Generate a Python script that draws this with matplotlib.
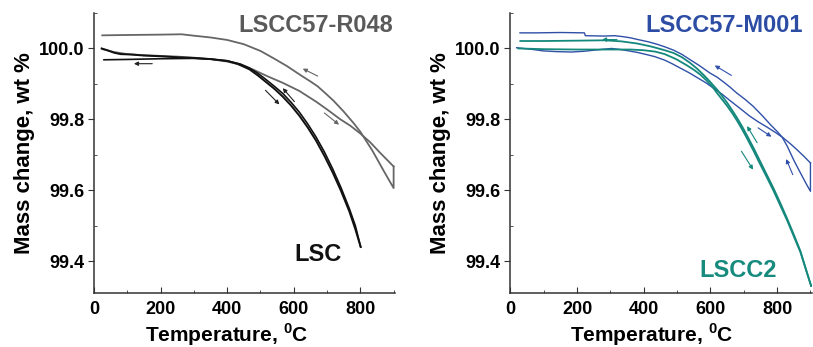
import matplotlib
matplotlib.use("Agg")
import matplotlib.pyplot as plt
from matplotlib.ticker import MultipleLocator

plt.rcParams['font.family'] = ['Liberation Sans', 'DejaVu Sans']
plt.rcParams['font.weight'] = 'bold'
plt.rcParams['mathtext.fontset'] = 'custom'
plt.rcParams['mathtext.rm'] = 'Liberation Sans:bold'
plt.rcParams['mathtext.bf'] = 'Liberation Sans:bold'

# ---- left panel: LSC (black) and LSCC57-R048 (gray) ----
lsc_heat_T = [23, 40, 60, 80, 110, 150, 200, 250, 300, 350, 400, 430, 467, 492, 517, 542, 567,
              592, 617, 642, 667, 692, 717, 742, 767, 785, 801]
lsc_heat_m = [100.0, 99.995, 99.988, 99.984, 99.983, 99.980, 99.978, 99.975, 99.973, 99.970,
              99.965, 99.957, 99.941, 99.924, 99.905, 99.886, 99.864, 99.839, 99.810, 99.777,
              99.740, 99.697, 99.650, 99.598, 99.540, 99.490, 99.440]
lsc_cool_T = [801, 785, 767, 742, 717, 692, 667, 642, 617, 592, 567, 542, 517, 492, 467, 440,
              400, 350, 300, 200, 100, 30]
lsc_cool_m = [99.440, 99.500, 99.548, 99.607, 99.660, 99.708, 99.750, 99.787, 99.820, 99.848,
              99.873, 99.893, 99.912, 99.930, 99.945, 99.956, 99.965, 99.970, 99.972, 99.971,
              99.969, 99.968]

r048_heat_T = [25, 60, 100, 150, 200, 250, 300, 350, 400, 440, 479, 520, 567, 617, 667, 700,
               740, 770, 800, 830, 860, 900]
r048_heat_m = [99.998, 99.990, 99.984, 99.981, 99.979, 99.977, 99.974, 99.970, 99.963, 99.954,
               99.940, 99.922, 99.903, 99.880, 99.850, 99.828, 99.800, 99.782, 99.760, 99.735,
               99.705, 99.667]
r048_cool_T = [900, 900, 870, 836, 800, 780, 750, 720, 697, 672, 650, 620, 580, 540, 500, 450,
               400, 350, 300, 263, 200, 100, 25]
r048_cool_m = [99.667, 99.606, 99.655, 99.712, 99.765, 99.789, 99.822, 99.852, 99.872, 99.893,
               99.907, 99.925, 99.950, 99.972, 99.993, 100.012, 100.024, 100.031, 100.036,
               100.040, 100.039, 100.038, 100.037]

# ---- right panel: LSCC57-M001 (blue) and LSCC2 (teal) ----
m001_heat_T = [19, 60, 100, 140, 184, 220, 250, 280, 304, 330, 350, 380, 403, 433, 463, 485,
               509, 535, 560, 585, 608, 635, 660, 690, 718, 745, 770, 795, 818, 840, 860, 880, 900]
m001_heat_m = [100.002, 99.998, 99.993, 99.991, 99.990, 99.992, 99.995, 99.998, 100.0, 99.997,
               99.994, 99.989, 99.984, 99.977, 99.967, 99.957, 99.945, 99.932, 99.918, 99.904,
               99.889, 99.871, 99.852, 99.830, 99.809, 99.792, 99.778, 99.763, 99.748, 99.731,
               99.714, 99.696, 99.677]
m001_cool_T = [900, 900, 888, 875, 862, 850, 840, 830, 815, 800, 780, 755, 728, 703, 678, 660,
               640, 620, 598, 568, 538, 515, 490, 465, 443, 413, 383, 360, 340, 313, 280, 225,
               222, 150, 80, 29]
m001_cool_m = [99.677, 99.597, 99.617, 99.640, 99.663, 99.685, 99.705, 99.725, 99.750, 99.766,
               99.785, 99.811, 99.837, 99.857, 99.875, 99.890, 99.905, 99.919, 99.931, 99.951,
               99.969, 99.983, 99.995, 100.004, 100.011, 100.019, 100.025, 100.030, 100.033,
               100.036, 100.035, 100.036, 100.044, 100.045, 100.044, 100.044]

lscc2_heat_T = [24, 100, 200, 300, 360, 400, 435, 463, 485, 499, 510, 530, 550, 570, 588, 605,
                620, 635, 650, 665, 680, 695, 710, 730, 750, 770, 790, 810, 830, 850, 870, 885, 902]
lscc2_heat_m = [100.0, 99.998, 99.997, 99.997, 99.997, 99.995, 99.991, 99.984, 99.975, 99.969,
                99.963, 99.952, 99.940, 99.926, 99.910, 99.893, 99.874, 99.856, 99.838, 99.818,
                99.796, 99.772, 99.746, 99.710, 99.672, 99.635, 99.597, 99.556, 99.515, 99.470,
                99.425, 99.380, 99.330]
lscc2_cool_T = [902, 885, 870, 850, 830, 810, 790, 770, 750, 730, 710, 695, 680, 665, 650, 635,
                620, 600, 580, 560, 538, 515, 490, 463, 440, 420, 400, 380, 333, 283, 200, 100, 30]
lscc2_cool_m = [99.330, 99.382, 99.428, 99.475, 99.520, 99.563, 99.604, 99.642, 99.680, 99.718,
                99.754, 99.780, 99.804, 99.826, 99.847, 99.866, 99.884, 99.905, 99.925, 99.943,
                99.960, 99.975, 99.987, 99.995, 100.001, 100.006, 100.010, 100.014, 100.020,
                100.023, 100.022, 100.021, 100.021]

# arrows: (tail T, tail m, head T, head m)
left_arrows = [((175, 99.957, 120, 99.957), '#222222'),
               ((515, 99.882, 557, 99.842), '#222222'),
               ((602, 99.850, 567, 99.888), '#222222'),
               ((672, 99.922, 627, 99.943), '#666666'),
               ((692, 99.818, 736, 99.785), '#666666')]
right_arrows = [((320, 100.025, 275, 100.025), '#14887c'),
                ((740, 99.734, 710, 99.781), '#14887c'),
                ((693, 99.710, 728, 99.658), '#14887c'),
                ((663, 99.924, 613, 99.952), '#3050a8'),
                ((743, 99.776, 783, 99.751), '#3050a8'),
                ((847, 99.644, 827, 99.688), '#3050a8')]

fig = plt.figure(figsize=(8.13, 3.47), dpi=100)
ax1 = fig.add_axes([0.1156, 0.1556, 0.3702, 0.8069])
ax2 = fig.add_axes([0.6277, 0.1556, 0.3708, 0.8069])

ax1.plot(r048_heat_T, r048_heat_m, color='#666666', lw=1.3)
ax1.plot(r048_cool_T, r048_cool_m, color='#666666', lw=1.3)
ax1.plot(lsc_heat_T, lsc_heat_m, color='#111111', lw=1.4)
ax1.plot(lsc_cool_T, lsc_cool_m, color='#111111', lw=1.2)

ax2.plot(m001_heat_T, m001_heat_m, color='#3050a8', lw=1.0)
ax2.plot(m001_cool_T, m001_cool_m, color='#3050a8', lw=1.0)
ax2.plot(lscc2_heat_T, lscc2_heat_m, color='#14887c', lw=1.3)
ax2.plot(lscc2_cool_T, lscc2_cool_m, color='#14887c', lw=1.3)

for ax, arrows in [(ax1, left_arrows), (ax2, right_arrows)]:
    for (t0, m0, t1, m1), c in arrows:
        ax.annotate('', xy=(t1, m1), xytext=(t0, m0),
                    arrowprops=dict(arrowstyle='-|>', color=c, lw=0.8,
                                    mutation_scale=6, shrinkA=0, shrinkB=0))

ax1.text(0.993, 0.957, 'LSCC57-R048', transform=ax1.transAxes, ha='right', va='center',
         fontsize=17, fontweight='bold', color='#5a5a5a')
ax1.text(0.743, 0.136, 'LSC', transform=ax1.transAxes, ha='center', va='center',
         fontsize=17, fontweight='bold', color='#111111')
ax2.text(0.971, 0.957, 'LSCC57-M001', transform=ax2.transAxes, ha='right', va='center',
         fontsize=17, fontweight='bold', color='#2d4da5')
ax2.text(0.755, 0.082, 'LSCC2', transform=ax2.transAxes, ha='center', va='center',
         fontsize=17, fontweight='bold', color='#178a7e')

for ax, lab_x in [(ax1, 0.44), (ax2, 0.47)]:
    ax.set_xlim(0, 904)
    ax.set_ylim(99.31, 100.10)
    ax.xaxis.set_major_locator(MultipleLocator(200))
    ax.xaxis.set_minor_locator(MultipleLocator(100))
    ax.yaxis.set_major_locator(MultipleLocator(0.2))
    ax.yaxis.set_minor_locator(MultipleLocator(0.1))
    ax.yaxis.set_major_formatter(plt.FormatStrFormatter('%.1f'))
    ax.spines['top'].set_visible(False)
    ax.spines['right'].set_visible(False)
    for s in ('left', 'bottom'):
        ax.spines[s].set_color('#333333')
        ax.spines[s].set_linewidth(1.1)
    ax.tick_params(axis='x', which='both', direction='in', colors='#333333', labelcolor='black',
                   labelsize=13, pad=6)
    ax.tick_params(axis='x', which='major', length=4)
    ax.tick_params(axis='x', which='minor', length=2.5)
    ax.tick_params(axis='y', which='both', direction='out', colors='#333333', labelcolor='black',
                   labelsize=13, pad=3)
    ax.tick_params(axis='y', which='major', length=4)
    ax.tick_params(axis='y', which='minor', length=2.5, direction='in')
    for lab in ax.get_xticklabels() + ax.get_yticklabels():
        lab.set_fontweight('bold')
    ax.set_xlabel(r'Temperature, $^{\mathbf{0}}$C', fontsize=15, fontweight='bold', labelpad=2)
    ax.xaxis.label.set_x(lab_x)
    ax.set_ylabel('Mass change, wt %', fontsize=16, fontweight='bold', labelpad=3)

fig.savefig('out.png', dpi=100)
